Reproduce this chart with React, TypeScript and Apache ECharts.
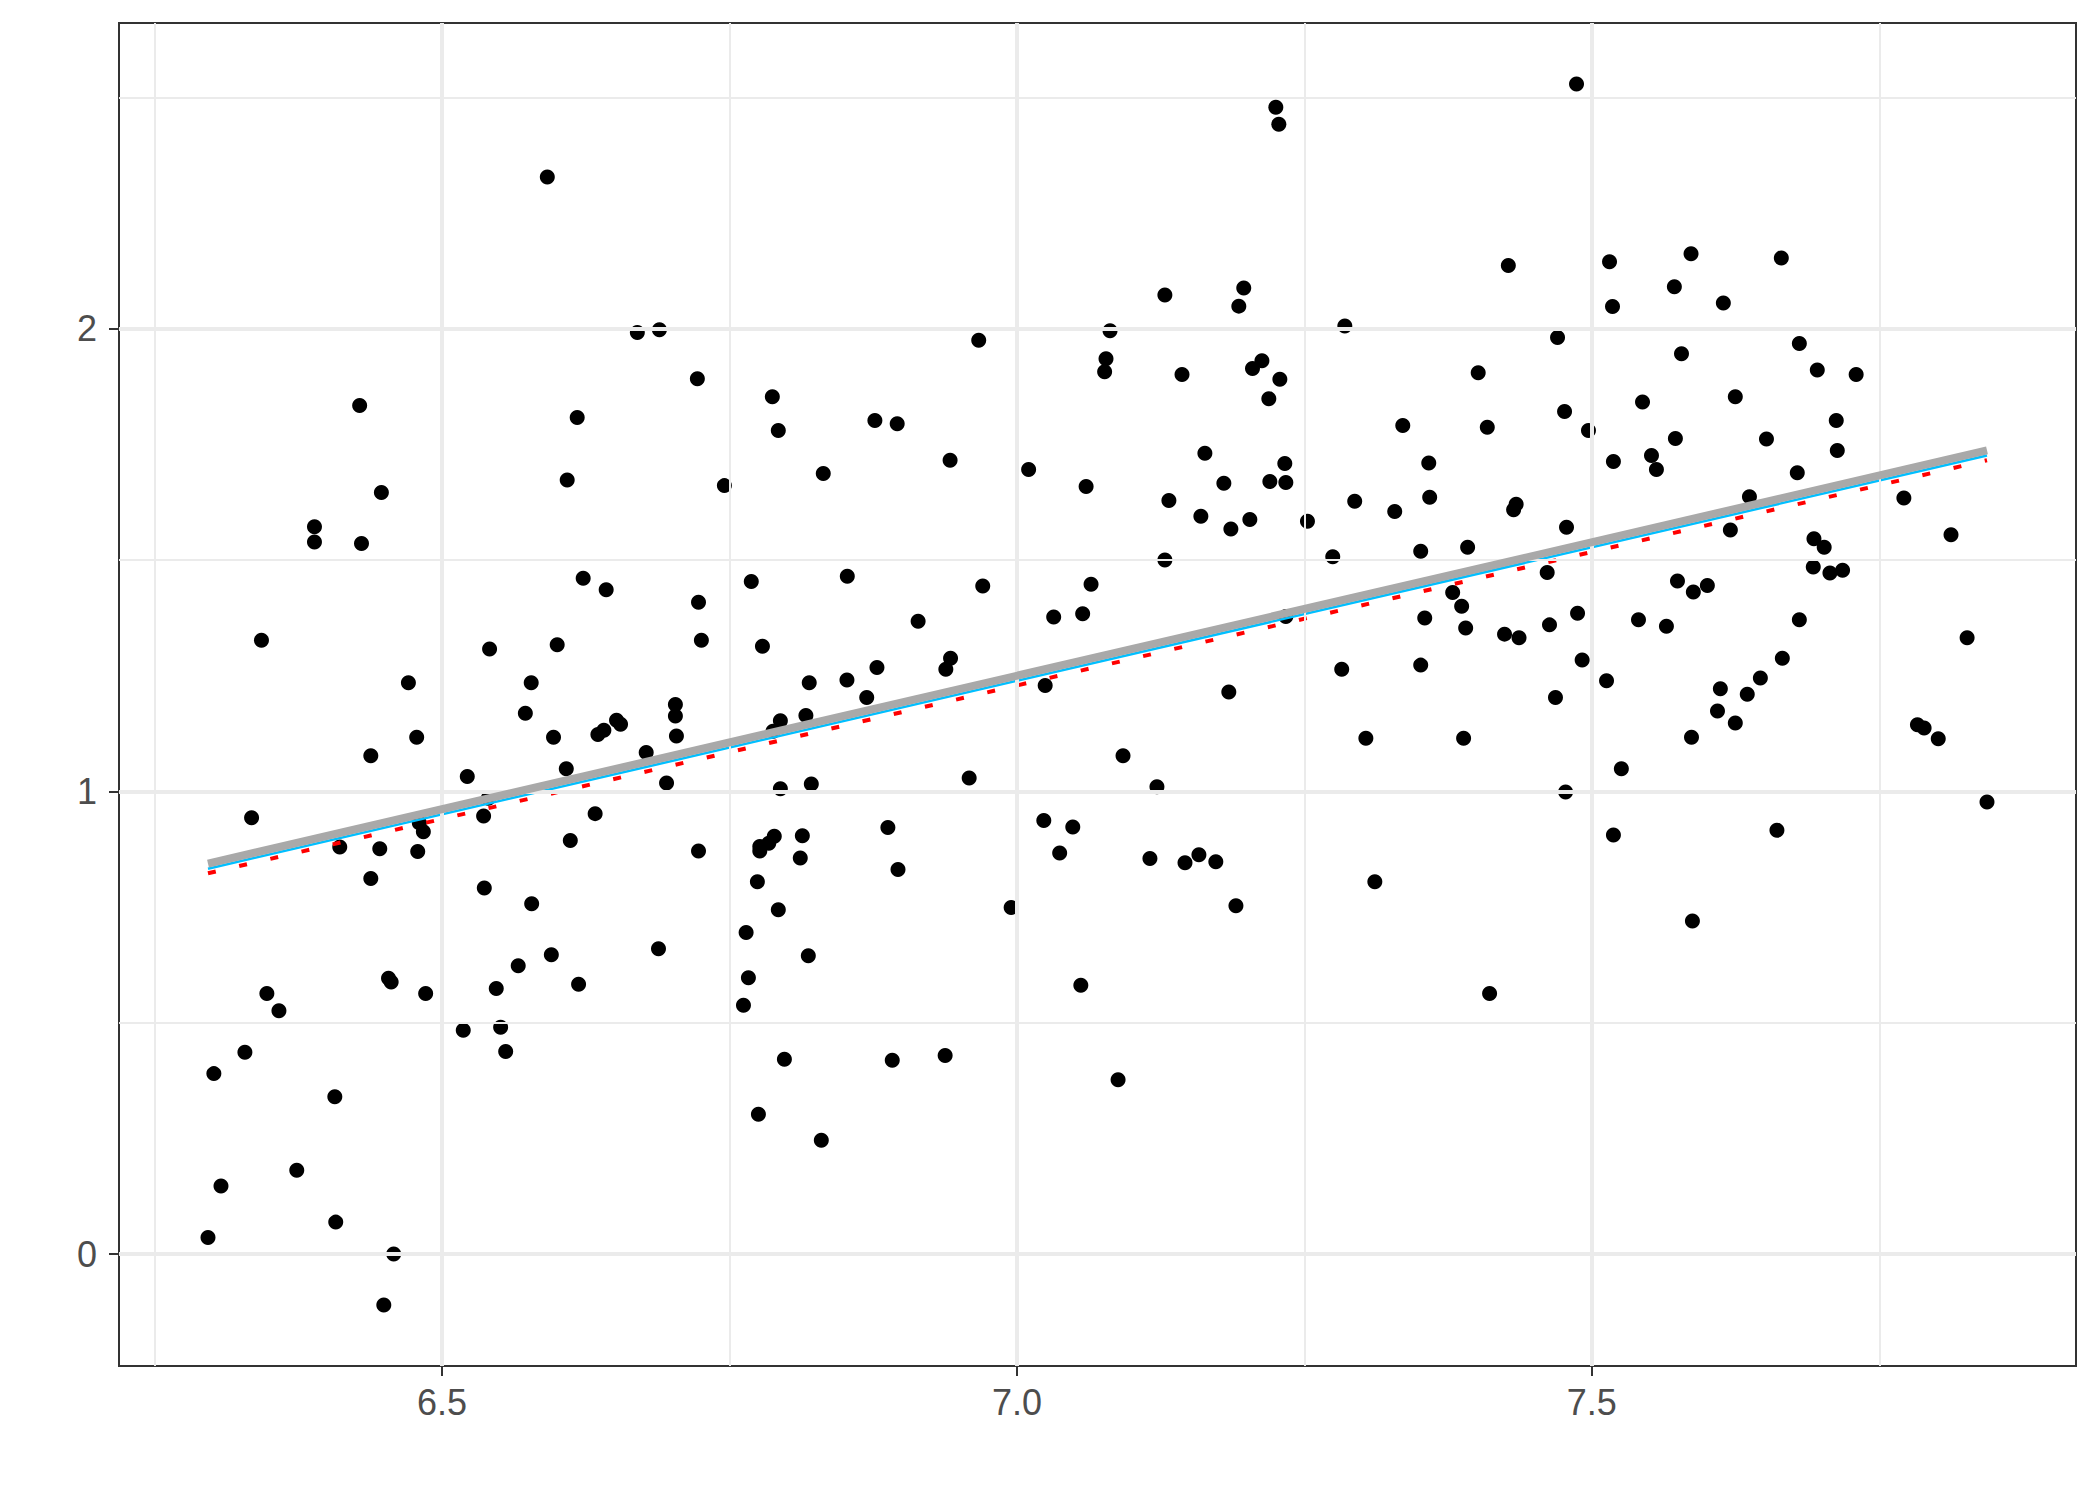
import { useEffect, useRef } from "react";
import * as echarts from "echarts";

// Scatter points (x, y)
const pointX = [
  6.2965, 6.3016, 6.3078, 6.3286, 6.3344, 6.343, 6.3477, 6.3582, 6.3737, 6.3891,
  6.3891, 6.4068, 6.4076, 6.4111, 6.4284, 6.43, 6.4381, 6.4381, 6.4459, 6.4473,
  6.4494, 6.4535, 6.4558, 6.458, 6.4708, 6.478, 6.4789, 6.4803, 6.4838, 6.4858,
  6.5185, 6.522, 6.5362, 6.5368, 6.5414, 6.5403, 6.5472, 6.551, 6.5554, 6.5663,
  6.5725, 6.578, 6.5776, 6.5916, 6.5951, 6.597, 6.6002, 6.6081, 6.6089, 6.6116,
  6.6176, 6.6188, 6.6228, 6.6332, 6.6356, 6.6408, 6.6428, 6.6518, 6.6553, 6.6699,
  6.6776, 6.6891, 6.6883, 6.6953, 6.703, 6.703, 6.7039, 6.7221, 6.7231, 6.7231,
  6.7256, 6.7456, 6.7622, 6.7645, 6.7665, 6.769, 6.7743, 6.7752, 6.7764, 6.7764,
  6.7787, 6.7842, 6.7873, 6.7879, 6.789, 6.7925, 6.7925, 6.7943, 6.7943, 6.7978,
  6.8116, 6.8134, 6.8165, 6.8194, 6.8186, 6.8212, 6.8299, 6.8316, 6.8525, 6.8522,
  6.8694, 6.8765, 6.8783, 6.8878, 6.8916, 6.8959, 6.8966, 6.9141, 6.9376, 6.9382,
  6.9419, 6.9423, 6.9585, 6.9668, 6.9703, 6.995, 7.0102, 7.0234, 7.0246, 7.032,
  7.0372, 7.0486, 7.0572, 7.0556, 7.0602, 7.0645, 7.0775, 7.0763, 7.081, 7.088,
  7.0923, 7.1157, 7.1218, 7.1287, 7.1287, 7.1322, 7.1436, 7.1462, 7.1583, 7.16,
  7.1635, 7.173, 7.18, 7.1843, 7.1861, 7.1905, 7.193, 7.1973, 7.2026, 7.2049,
  7.2131, 7.2191, 7.22, 7.2252, 7.2278, 7.2287, 7.233, 7.2339, 7.2339, 7.2527,
  7.2747, 7.2825, 7.2852, 7.2938, 7.3035, 7.3113, 7.3286, 7.3356, 7.3512, 7.3512,
  7.3547, 7.3582, 7.359, 7.4012, 7.379, 7.3885, 7.3903, 7.392, 7.3868, 7.4091,
  7.4111, 7.4241, 7.4274, 7.432, 7.4342, 7.4367, 7.4612, 7.4632, 7.4684, 7.4702,
  7.4763, 7.4772, 7.478, 7.4867, 7.4876, 7.4916, 7.4971, 7.5128, 7.5154, 7.518,
  7.5188, 7.5188, 7.5257, 7.5406, 7.5441, 7.5519, 7.5562, 7.5649, 7.5718, 7.5727,
  7.5745, 7.578, 7.5863, 7.5883, 7.5867, 7.5875, 7.6005, 7.6093, 7.6118, 7.6144,
  7.6205, 7.6248, 7.6248, 7.6352, 7.6371, 7.6466, 7.6519, 7.661, 7.6657, 7.6648,
  7.6805, 7.6787, 7.6805, 7.6932, 7.6926, 7.6961, 7.7021, 7.7071, 7.7135, 7.7126,
  7.7181, 7.7299, 7.7714, 7.7832, 7.789, 7.8013, 7.8124, 7.8264, 7.8437,
];
const pointY = [
  0.036, 0.39, 0.147, 0.436, 0.943, 1.327, 0.563, 0.526, 0.181, 1.572,
  1.539, 0.34, 0.069, 0.88, 1.834, 1.536, 1.077, 0.812, 0.876, 1.646,
  -0.11, 0.596, 0.588, 0.0, 1.235, 1.117, 0.87, 0.932, 0.913, 0.563,
  0.484, 1.032, 0.947, 0.791, 1.308, 0.985, 0.574, 0.49, 0.438, 0.623,
  1.169, 0.757, 1.235, 2.328, 0.647, 1.117, 1.317, 1.049, 1.673, 0.894,
  1.808, 0.583, 1.461, 0.952, 1.123, 1.132, 1.436, 1.154, 1.145, 1.992,
  1.084, 1.998, 0.66, 1.018, 1.188, 1.163, 1.12, 1.892, 1.409, 0.871,
  1.327, 1.661, 0.538, 0.695, 0.597, 1.454, 0.805, 0.302, 0.881, 0.871,
  1.314, 0.888, 1.853, 1.13, 0.903, 1.78, 0.744, 1.153, 1.006, 0.421,
  0.856, 0.904, 1.164, 1.235, 0.645, 1.016, 0.246, 1.687, 1.465, 1.241,
  1.203, 1.802, 1.268, 0.922, 0.419, 1.795, 0.831, 1.368, 0.429, 1.264,
  1.716, 1.288, 1.029, 1.975, 1.444, 0.749, 1.696, 0.937, 1.229, 1.377,
  0.867, 0.923, 1.384, 0.581, 1.659, 1.448, 1.935, 1.907, 1.996, 0.377,
  1.077, 0.855, 1.01, 2.073, 1.5, 1.629, 1.901, 0.846, 0.863, 1.595,
  1.731, 0.848, 1.666, 1.215, 1.567, 0.753, 2.049, 2.088, 1.588, 1.914,
  1.931, 1.849, 1.67, 2.479, 2.442, 1.891, 1.709, 1.668, 1.378, 1.584,
  1.507, 1.264, 2.006, 1.627, 1.115, 0.805, 1.605, 1.791, 1.519, 1.273,
  1.375, 1.71, 1.636, 1.905, 1.43, 1.115, 1.353, 1.528, 1.4, 1.787,
  0.563, 1.34, 2.137, 1.609, 1.621, 1.332, 1.473, 1.36, 1.203, 1.981,
  1.821, 0.999, 1.571, 2.529, 1.385, 1.284, 1.78, 1.239, 2.145, 2.048,
  1.713, 0.906, 1.049, 1.371, 1.842, 1.726, 1.696, 1.357, 2.091, 1.763,
  1.455, 1.946, 2.162, 1.431, 1.117, 0.72, 1.445, 1.174, 1.222, 2.056,
  1.565, 1.148, 1.853, 1.21, 1.637, 1.245, 1.762, 0.916, 1.288, 2.153,
  1.371, 1.689, 1.968, 1.546, 1.485, 1.911, 1.528, 1.472, 1.737, 1.802,
  1.478, 1.901, 1.634, 1.144, 1.137, 1.114, 1.555, 1.332, 0.977,
];

// Fitted lines: endpoints at the data's x range
const fitX = [6.2965, 7.8437];
const fitGray = [0.844, 1.737];
const fitBlue = [0.833, 1.726];
const fitRed = [0.823, 1.716];

// Axes
const xRange = [6.2191, 7.9211];
const yRange = [-0.242, 2.661];
const xMajor = [6.5, 7.0, 7.5];
const xMinor = [6.25, 6.75, 7.25, 7.75];
const yMajor = [0, 1, 2];
const yMinor = [0.5, 1.5, 2.5];

const FONT = '"Liberation Sans", Arial, sans-serif';

export default function App() {
  const ref = useRef<HTMLDivElement>(null);

  useEffect(() => {
    if (!ref.current) return;
    const chart = echarts.init(ref.current, undefined, { renderer: "svg" });

    const points = pointX.map((x, i) => [x, pointY[i]]);
    const lineData = (ys: number[]) => fitX.map((x, i) => [x, ys[i]]);

    const gridLines = [
      ...xMinor.map((v) => ({ xAxis: v, lineStyle: { width: 2 } })),
      ...yMinor.map((v) => ({ yAxis: v, lineStyle: { width: 2 } })),
      ...xMajor.map((v) => ({ xAxis: v, lineStyle: { width: 4 } })),
      ...yMajor.map((v) => ({ yAxis: v, lineStyle: { width: 4 } })),
    ];

    const tickStyle = { show: true, length: 10, inside: false, lineStyle: { color: "#333333", width: 2 } };
    const labelStyle = { color: "#4D4D4D", fontSize: 36, fontFamily: FONT };

    chart.setOption({
      animation: false,
      backgroundColor: "#ffffff",
      grid: {
        left: 119,
        right: 24,
        top: 23,
        bottom: 134,
        show: true,
        borderColor: "#333333",
        borderWidth: 2,
        backgroundColor: "#ffffff",
        containLabel: false,
      },
      xAxis: {
        type: "value",
        min: xRange[0],
        max: xRange[1],
        axisLine: { show: false, onZero: false },
        splitLine: { show: false },
        axisTick: { ...tickStyle, customValues: xMajor },
        axisLabel: {
          ...labelStyle,
          margin: 18,
          customValues: xMajor,
          formatter: (v: number) => v.toFixed(1),
        },
      },
      yAxis: {
        type: "value",
        min: yRange[0],
        max: yRange[1],
        axisLine: { show: false, onZero: false },
        splitLine: { show: false },
        axisTick: { ...tickStyle, customValues: yMajor },
        axisLabel: {
          ...labelStyle,
          margin: 22,
          customValues: yMajor,
          formatter: (v: number) => String(Math.round(v)),
        },
      },
      series: [
        {
          type: "line",
          data: [],
          z: 0,
          silent: true,
          markLine: {
            silent: true,
            animation: false,
            symbol: ["none", "none"],
            label: { show: false },
            lineStyle: { color: "#EBEBEB", type: "solid" },
            emphasis: { disabled: true },
            data: gridLines,
          },
        },
        {
          type: "scatter",
          data: points,
          symbol: "circle",
          symbolSize: 15,
          z: 2,
          itemStyle: { color: "#000000", opacity: 1 },
          silent: true,
        },
        {
          type: "line",
          data: lineData(fitRed),
          showSymbol: false,
          z: 3,
          silent: true,
          lineStyle: { color: "#FF0000", width: 4, type: [8, 24], cap: "butt" },
        },
        {
          type: "line",
          data: lineData(fitBlue),
          showSymbol: false,
          z: 4,
          silent: true,
          lineStyle: { color: "#00BFFF", width: 2.5 },
        },
        {
          type: "line",
          data: lineData(fitGray),
          showSymbol: false,
          z: 5,
          silent: true,
          lineStyle: { color: "#A9A9A9", width: 8 },
        },
      ],
    });

    return () => chart.dispose();
  }, []);

  return (
    <div
      ref={ref}
      style={{ position: "absolute", left: 0, top: 0, width: 2100, height: 1500 }}
    />
  );
}
